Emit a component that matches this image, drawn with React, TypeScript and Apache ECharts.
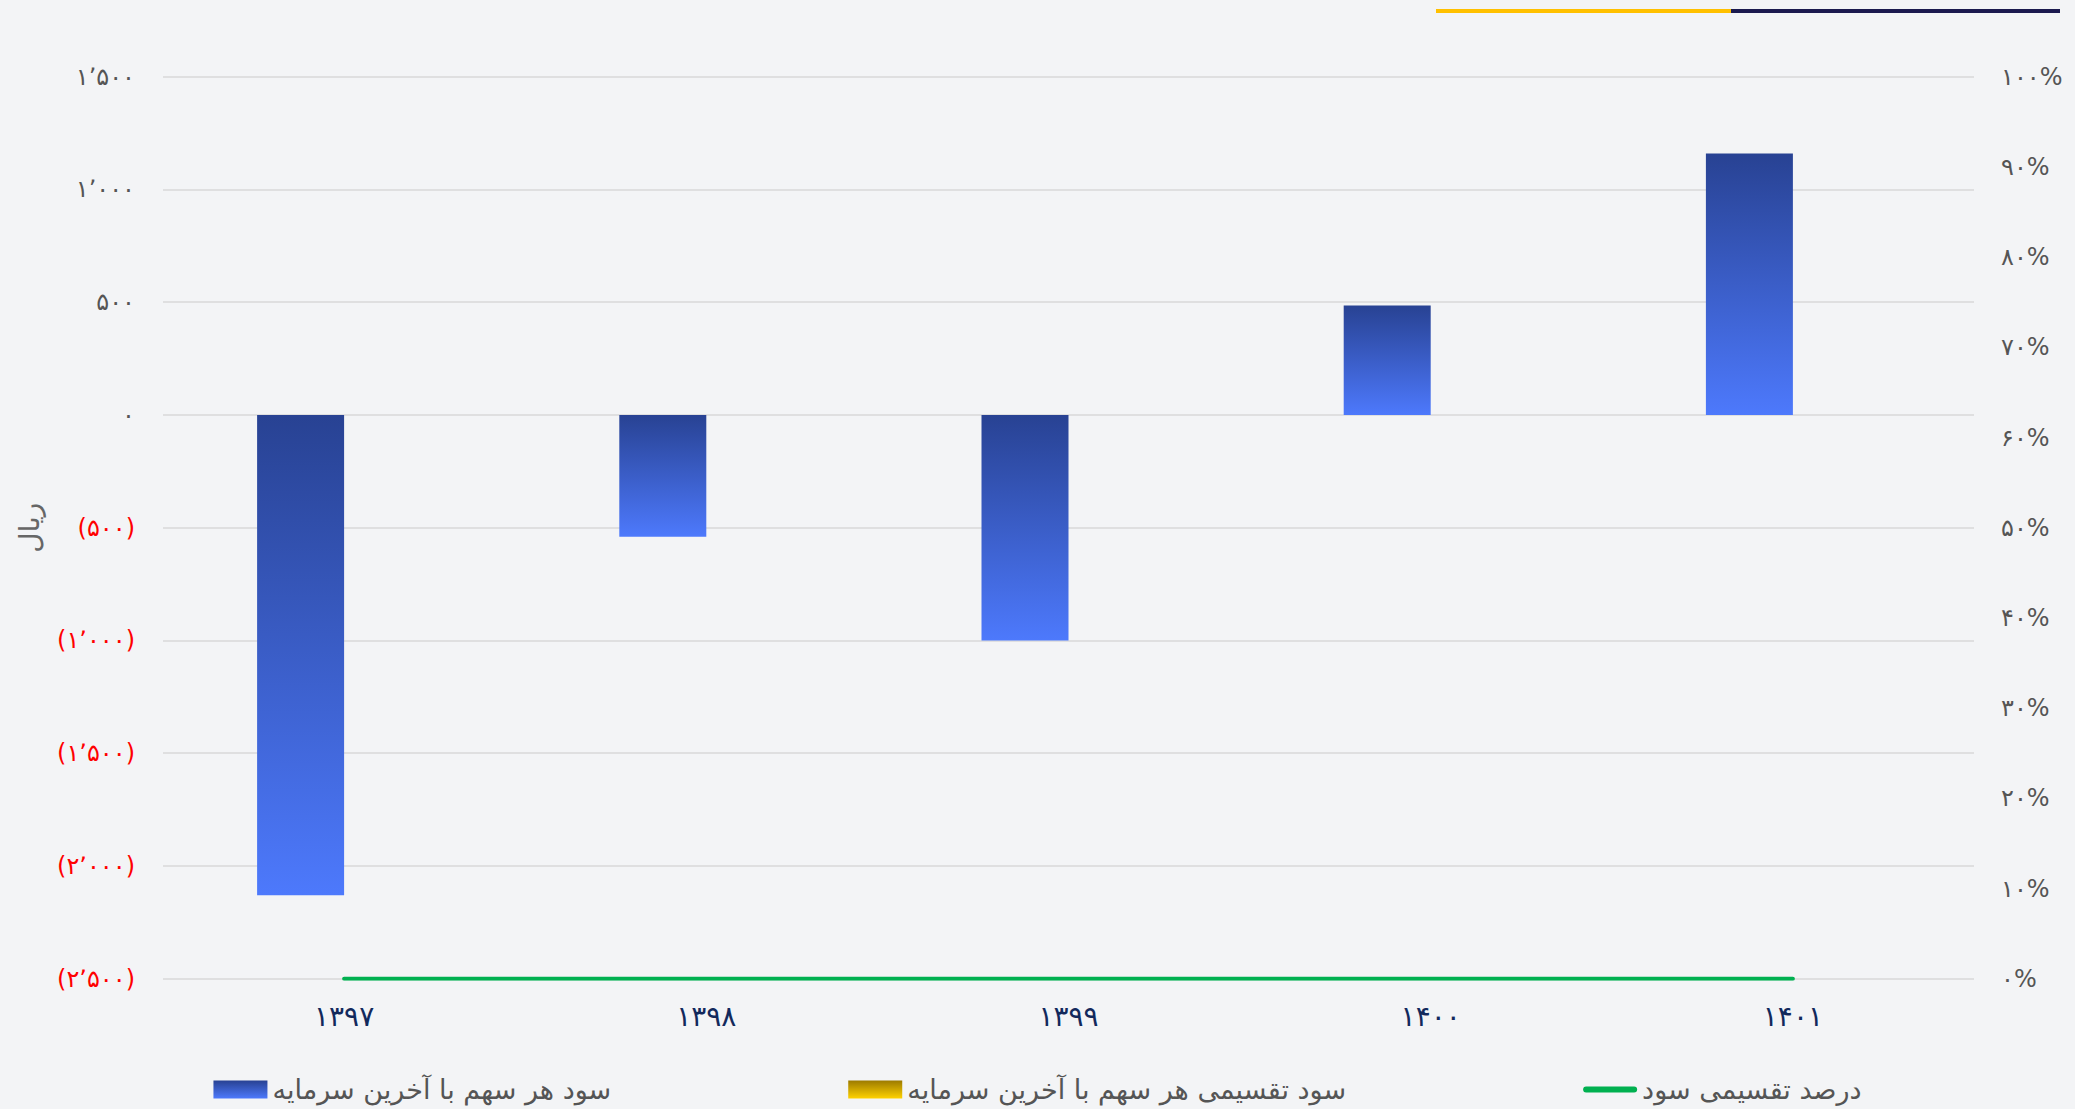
import React, { useEffect, useRef } from "react";
import * as echarts from "echarts";

const categories = ["۱۳۹۷", "۱۳۹۸", "۱۳۹۹", "۱۴۰۰", "۱۴۰۱"];
const epsValues = [-2130, -540, -1000, 485, 1160];
const dpsValues = [0, 0, 0, 0, 0];
const payoutPct = [0, 0, 0, 0, 0];
const seriesNames = [
  "سود هر سهم با آخرین سرمایه",
  "سود تقسیمی هر سهم با آخرین سرمایه",
  "درصد تقسیمی سود",
];
const leftAxisName = "ریال";

const FA = "۰۱۲۳۴۵۶۷۸۹";
const toFa = (s: string) => s.replace(/[0-9]/g, (d) => FA[+d]);
const fmtNum = (v: number) => {
  const s = Math.abs(v).toString().replace(/\B(?=(\d{3})+(?!\d))/g, "٬");
  return toFa(s);
};

const FONT = "'DejaVu Sans', 'Noto Sans', sans-serif";

export default function App() {
  const ref = useRef<HTMLDivElement>(null);
  useEffect(() => {
    if (!ref.current) return;
    const chart = echarts.init(ref.current, undefined, { renderer: "svg" });
    const blue = new echarts.graphic.LinearGradient(0, 0, 0, 1, [
      { offset: 0, color: "#284293" },
      { offset: 1, color: "#4d79fc" },
    ]);
    const yellow = new echarts.graphic.LinearGradient(0, 0, 0, 1, [
      { offset: 0, color: "#9c7a00" },
      { offset: 1, color: "#ffd200" },
    ]);
    chart.setOption({
      animation: false,
      backgroundColor: "#f3f4f6",
      textStyle: { fontFamily: FONT },
      grid: { left: 163, right: 101, top: 76.75, bottom: 130.3, containLabel: false },
      graphic: [
        { type: "line", shape: { x1: 1436, y1: 11, x2: 1731, y2: 11 }, style: { stroke: "#ffc000", lineWidth: 4 } },
        { type: "line", shape: { x1: 1731, y1: 11, x2: 2060, y2: 11 }, style: { stroke: "#1b1a4f", lineWidth: 4 } },
      ],
      legend: {
        bottom: 1,
        left: "center",
        itemWidth: 54,
        itemHeight: 18,
        itemGap: 237,
        symbolKeepAspect: true,
        textStyle: { fontSize: 27, color: "#555", fontFamily: FONT },
        data: [
          { name: seriesNames[0], icon: "rect" },
          { name: seriesNames[1], icon: "rect" },
          {
            name: seriesNames[2],
            icon: "path://M3,0 L51,0 A3,3 0 0 1 51,6 L3,6 A3,3 0 0 1 3,0 Z",
            itemStyle: { color: "#00b050" },
          },
        ],
      },
      xAxis: {
        type: "category",
        data: categories,
        axisLine: { show: false },
        axisTick: { show: false },
        axisLabel: { margin: 24, fontSize: 28, fontWeight: "normal", color: "#12295c", fontFamily: FONT },
      },
      yAxis: [
        {
          type: "value",
          min: -2500,
          max: 1500,
          interval: 500,
          name: leftAxisName,
          nameLocation: "middle",
          nameRotate: 90,
          nameGap: 120,
          nameTextStyle: { fontSize: 28, color: "#666", fontFamily: FONT },
          axisLine: { show: false },
          axisTick: { show: false },
          splitLine: { lineStyle: { color: "#d9d9d9", width: 1.5 } },
          axisLabel: {
            margin: 28,
            fontSize: 24,
            fontFamily: FONT,
            formatter: (v: number) => (v < 0 ? `(${fmtNum(v)})` : fmtNum(v)),
            color: (v: any) => (Number(v) < 0 ? "#ff0000" : "#555555"),
          },
        },
        {
          type: "value",
          min: 0,
          max: 100,
          interval: 10,
          position: "right",
          axisLine: { show: false },
          axisTick: { show: false },
          splitLine: { show: false },
          axisLabel: {
            margin: 27,
            fontSize: 24,
            color: "#555",
            fontFamily: FONT,
            formatter: (v: number) => `${toFa(String(v))}%`,
          },
        },
      ],
      series: [
        {
          name: seriesNames[0],
          type: "bar",
          data: epsValues,
          barWidth: 87,
          barGap: "0%",
          itemStyle: { color: blue },
        },
        {
          name: seriesNames[1],
          type: "bar",
          data: dpsValues,
          barWidth: 87,
          barGap: "0%",
          itemStyle: { color: yellow },
        },
        {
          name: seriesNames[2],
          type: "line",
          yAxisIndex: 1,
          data: payoutPct,
          symbol: "none",
          z: 5,
          lineStyle: { color: "#00b050", width: 4, cap: "round" },
          itemStyle: { color: "#00b050" },
        },
      ],
    });
    return () => chart.dispose();
  }, []);
  return (
    <div
      ref={ref}
      style={{ position: "fixed", left: 0, top: 0, width: 2075, height: 1109 }}
    />
  );
}
